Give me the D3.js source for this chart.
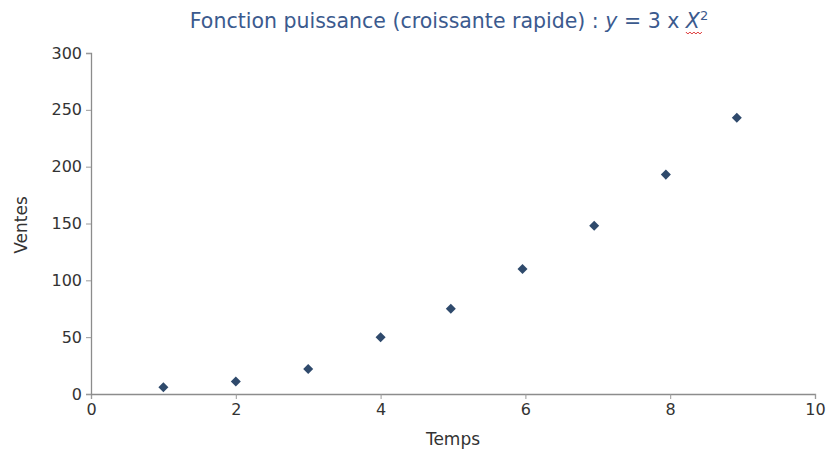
<!DOCTYPE html>
<html>
<head>
<meta charset="utf-8">
<script src="https://cdn.jsdelivr.net/npm/d3@7"></script>
<style>
  body { margin: 0; background: #fff; }
  text { font-family: "DejaVu Sans", sans-serif; }
</style>
</head>
<body>
<svg id="chart" width="831" height="452"></svg>
<script>
// data
var temps  = [1, 2, 3, 4, 4.97, 5.96, 6.95, 7.94, 8.92];
var ventes = [6, 11, 22, 50, 75, 110, 148, 193, 243];
var xTicks = [0, 2, 4, 6, 8, 10];
var yTicks = [0, 50, 100, 150, 200, 250, 300];

var svg = d3.select("#chart"),
    margin = {top: 53, right: 16, bottom: 58, left: 91},
    width = +svg.attr("width") - margin.left - margin.right,
    height = +svg.attr("height") - margin.top - margin.bottom;

var x = d3.scaleLinear().domain([0, 10]).range([0, width]);
var y = d3.scaleLinear().domain([0, 300]).range([height, 0]);

var g = svg.append("g").attr("transform", "translate(" + margin.left + "," + margin.top + ")");

// axes
var xAxis = g.append("g")
    .attr("transform", "translate(0," + height + ")")
    .call(d3.axisBottom(x).tickValues(xTicks).tickSize(5).tickPadding(5));
var yAxis = g.append("g")
    .call(d3.axisLeft(y).tickValues(yTicks).tickSize(5).tickPadding(4));

[xAxis, yAxis].forEach(function(a) {
  a.select(".domain").attr("stroke", "#8c8c8c").attr("stroke-width", 1.3);
  a.selectAll(".tick line").attr("stroke", "#9a9a9a");
  a.selectAll(".tick text").attr("fill", "#333").style("font-size", "16px");
});

// points
var pts = temps.map(function(t, i) { return {x: t, y: ventes[i]}; });
g.selectAll(".pt")
  .data(pts)
  .enter().append("path")
    .attr("class", "pt")
    .attr("d", d3.symbol().type(d3.symbolDiamond2).size(64))
    .attr("transform", function(d) { return "translate(" + x(d.x) + "," + y(d.y) + ")"; })
    .attr("fill", "#2f4a6c");

// axis titles
svg.append("text")
  .attr("x", margin.left + x(5))
  .attr("y", 445)
  .attr("text-anchor", "middle")
  .attr("fill", "#333")
  .style("font-size", "17px")
  .text("Temps");

svg.append("text")
  .attr("transform", "translate(27,225) rotate(-90)")
  .attr("text-anchor", "middle")
  .attr("fill", "#333")
  .style("font-size", "17px")
  .text("Ventes");

// title
var title = svg.append("text")
  .attr("x", 449)
  .attr("y", 28)
  .attr("text-anchor", "middle")
  .attr("fill", "#3b5a8e")
  .style("font-size", "20.5px");
title.append("tspan").text("Fonction puissance (croissante rapide) : ");
title.append("tspan").style("font-style", "italic").text("y");
title.append("tspan").text(" = 3 x ");
title.append("tspan").style("font-style", "italic").text("X");
title.append("tspan").attr("dy", -8).style("font-size", "13px").text("2");

// red spell-check squiggle under X
var n = title.node();
var idx = n.textContent.lastIndexOf("X");
var s = n.getStartPositionOfChar(idx), e = n.getEndPositionOfChar(idx);
var sq = d3.path();
sq.moveTo(s.x, 32);
for (var xx = s.x, k = 0; xx < e.x; xx += 2, k++) sq.lineTo(xx + 2, k % 2 ? 32 : 34);
svg.append("path").attr("d", sq.toString()).attr("fill", "none").attr("stroke", "#d33").attr("stroke-width", 1);
</script>
</body>
</html>
